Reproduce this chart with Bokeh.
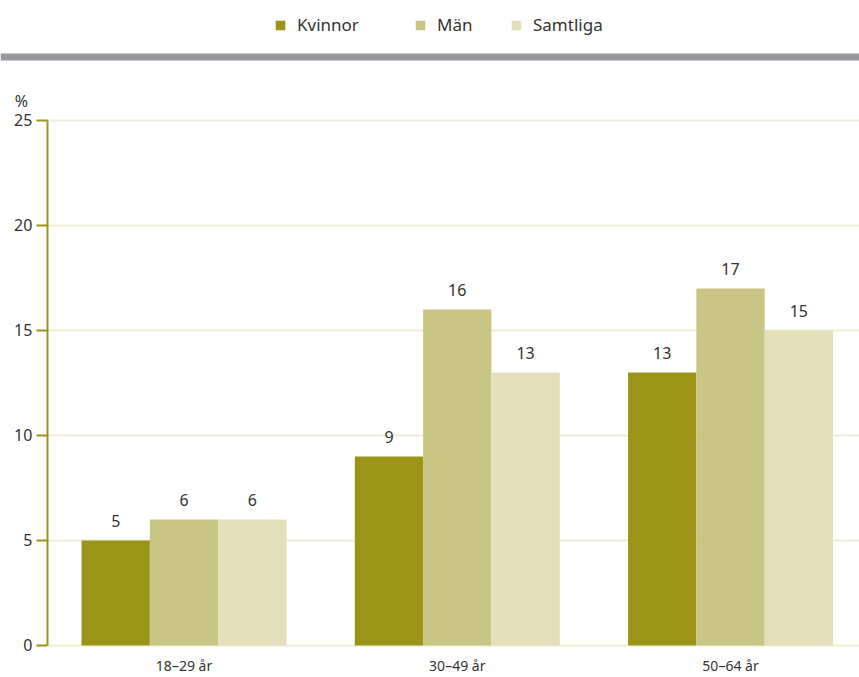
from bokeh.plotting import figure
from bokeh.models import (ColumnDataSource, Range1d, FixedTicker, Legend, LegendItem,
                          Span, LabelSet, Label)
from bokeh.core.properties import value
from bokeh.embed import file_html
from bokeh.resources import INLINE

# ---- data ----
categories = ["18–29 år", "30–49 år", "50–64 år"]
series_names = ["Kvinnor", "Män", "Samtliga"]
kvinnor = [5, 9, 13]
man = [6, 16, 17]
samtliga = [6, 13, 15]
y_ticks = [0, 5, 10, 15, 20, 25]

colors = ["#9c9419", "#c9c585", "#e3dfbb"]
text_color = "#333333"
axis_color = "#9c9419"
grid_color = "#efedd8"
rule_color = "#98989c"
FONT = "Noto Sans"

W, H = 859, 677
X_START, X_END = -0.6716, 2.4720
Y_START, Y_END = -1.524, 30.714
AXIS_X = -0.5

xs = list(range(len(categories)))
offsets = [-0.25, 0.0, 0.25]
bar_w = 0.25

p = figure(width=W, height=H, x_range=Range1d(X_START, X_END), y_range=Range1d(Y_START, Y_END),
           output_backend="svg", toolbar_location=None, min_border=0)
p.outline_line_color = None
p.xgrid.grid_line_color = None
p.ygrid.grid_line_color = None

# horizontal grid lines (from the y axis to the right edge)
p.segment(x0=[AXIS_X] * len(y_ticks), x1=[X_END] * len(y_ticks), y0=y_ticks, y1=y_ticks,
          line_color=grid_color, line_width=2)

bar_renderers = []
for vals, col, off in zip([kvinnor, man, samtliga], colors, offsets):
    src = ColumnDataSource(dict(x=[x + off for x in xs], top=vals,
                                lbl=[str(v) for v in vals]))
    r = p.vbar(x="x", top="top", bottom=0, width=bar_w, source=src,
               fill_color=col, line_color=None)
    bar_renderers.append(r)
    p.add_layout(LabelSet(x="x", y="top", text="lbl", source=src, y_offset=13,
                          text_align="center", text_baseline="alphabetic",
                          text_font=value(FONT), text_font_size=value("16px"),
                          text_color=text_color))

# y axis
p.yaxis.fixed_location = AXIS_X
p.yaxis.bounds = (y_ticks[0], y_ticks[-1])
p.yaxis.ticker = FixedTicker(ticks=y_ticks)
p.yaxis.axis_line_color = axis_color
p.yaxis.axis_line_width = 2
p.yaxis.major_tick_line_color = axis_color
p.yaxis.major_tick_line_width = 2
p.yaxis.major_tick_out = 11
p.yaxis.major_tick_in = 0
p.yaxis.minor_tick_line_color = None
p.yaxis.major_label_standoff = 4
p.yaxis.major_label_text_font = FONT
p.yaxis.major_label_text_font_size = "16px"
p.yaxis.major_label_text_color = text_color

# x axis
p.xaxis.fixed_location = 0
p.xaxis.ticker = FixedTicker(ticks=xs)
p.xaxis.major_label_overrides = {x: c for x, c in zip(xs, categories)}
p.xaxis.axis_line_color = None
p.xaxis.major_tick_line_color = None
p.xaxis.minor_tick_line_color = None
p.xaxis.major_tick_out = 0
p.xaxis.major_tick_in = 0
p.xaxis.major_label_standoff = 11
p.xaxis.major_label_text_font = FONT
p.xaxis.major_label_text_font_size = "14px"
p.xaxis.major_label_text_color = text_color

# unit label
p.add_layout(Label(x=AXIS_X, y=y_ticks[-1], text="%", x_offset=-26, y_offset=19,
                   text_align="center", text_baseline="middle",
                   text_font=FONT, text_font_size="16px", text_color=text_color))

# grey rule under the legend
p.add_layout(Span(location=28.02, dimension="width", line_color=rule_color, line_width=7))

# legend (one per item to reproduce the uneven spacing)
legend_x = [274, 414, 510]
for name, r, lx in zip(series_names, bar_renderers, legend_x):
    lg = Legend(items=[LegendItem(label=name, renderers=[r])], location=(lx, 641),
                orientation="horizontal", padding=0, margin=0, spacing=0,
                border_line_color=None, background_fill_alpha=0,
                glyph_width=12, glyph_height=12, label_standoff=11,
                label_text_font=FONT, label_text_font_size="17px",
                label_text_color=text_color)
    p.add_layout(lg)

open("out.html", "w").write(file_html(p, INLINE))
